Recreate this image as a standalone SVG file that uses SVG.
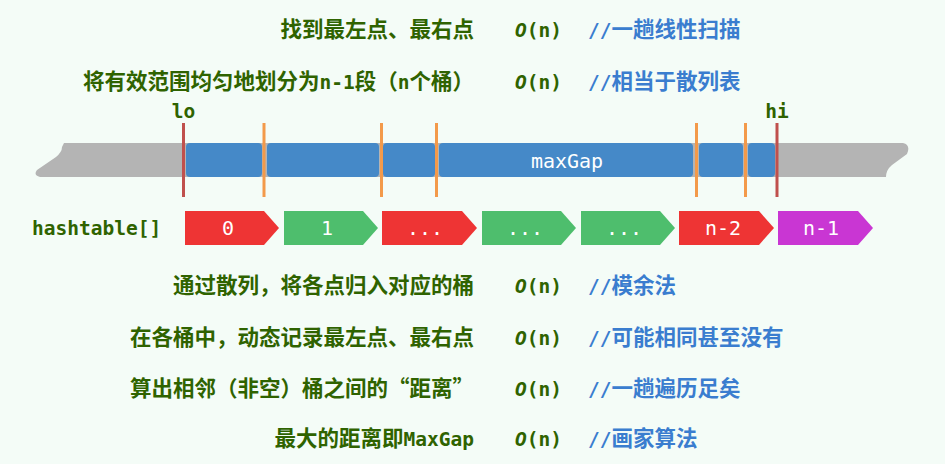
<svg xmlns="http://www.w3.org/2000/svg" width="945" height="464" viewBox="0 0 945 464">
<style>
.cn{font-family:"Noto Sans CJK SC","Noto Sans",sans-serif;font-size:21.5px;font-weight:bold;fill:#2f6300;}
.mono{font-family:"DejaVu Sans Mono","Liberation Mono",monospace;font-size:19.5px;}
.cx{font-family:"DejaVu Sans Mono","Liberation Mono",monospace;font-size:19.5px;font-weight:bold;fill:#2f6300;}
.cm{font-family:"Noto Sans CJK SC","Noto Sans",sans-serif;font-size:21.5px;font-weight:bold;fill:#3a7dcf;}
.seg{fill:#4589c8;}
.div{stroke:#f39a4a;stroke-width:3;}
.lim{stroke:#c0504d;stroke-width:3;}
.lbl{font-family:"DejaVu Sans Mono","Liberation Mono",monospace;font-size:20px;fill:#ffffff;text-anchor:middle;}
.red{fill:#ee3434;}
.grn{fill:#4ebe6d;}
.mag{fill:#c936d3;}
</style>
<rect width="945" height="464" fill="#f4fcf7"/>

<g id="row1">
<text class="cn" x="474" y="37" text-anchor="end">找到最左点、最右点</text>
<text class="cx" x="515" y="37"><tspan font-style="italic">O</tspan>(n)</text>
<text class="cm" x="588" y="37"><tspan class="mono">//</tspan>一趟线性扫描</text>
</g>
<g id="row2">
<text class="cn" x="474" y="89" text-anchor="end">将有效范围均匀地划分为<tspan class="mono">n-1</tspan>段（<tspan class="mono">n</tspan>个桶）</text>
<text class="cx" x="515" y="89"><tspan font-style="italic">O</tspan>(n)</text>
<text class="cm" x="588" y="89"><tspan class="mono">//</tspan>相当于散列表</text>
</g>

<g id="bar">
<path d="M64 143 L903 143 Q911 145 907 154 L892 165 Q886 170 886 177 L40 177 Q33 175 37 170 L56 157 Q62 152 62 147 Z" fill="#b4b4b4"/>
<rect class="seg" x="186" y="143" width="76" height="34" rx="4"/>
<rect class="seg" x="267" y="143" width="112" height="34" rx="4"/>
<rect class="seg" x="383" y="143" width="52" height="34" rx="4"/>
<rect class="seg" x="439" y="143" width="254" height="34" rx="4"/>
<rect class="seg" x="699" y="143" width="44" height="34" rx="4"/>
<rect class="seg" x="748" y="143" width="27" height="34" rx="4"/>
<text class="lbl" x="567" y="168">maxGap</text>
</g>

<g id="dividers">
<line class="div" x1="264" y1="123" x2="264" y2="197"/>
<line class="div" x1="381.5" y1="123" x2="381.5" y2="197"/>
<line class="div" x1="436.5" y1="123" x2="436.5" y2="197"/>
<line class="div" x1="696.5" y1="123" x2="696.5" y2="197"/>
<line class="div" x1="745.5" y1="123" x2="745.5" y2="197"/>
</g>
<g id="lo">
<line class="lim" x1="183.5" y1="123" x2="183.5" y2="197"/>
<text class="cx" x="183.5" y="118" font-size="19" text-anchor="middle">lo</text>
</g>
<g id="hi">
<line class="lim" x1="777" y1="123" x2="777" y2="197"/>
<text class="cx" x="777" y="118" font-size="19" text-anchor="middle">hi</text>
</g>

<g id="hashtable">
<text class="cx" x="32" y="235">hashtable[]</text>
</g>
<g id="b0"><path class="red" d="M185 211 H264 L279 228 L264 245 H185 Z"/><text class="lbl" x="228" y="235">0</text></g>
<g id="b1"><path class="grn" d="M284 211 H363 L378 228 L363 245 H284 Z"/><text class="lbl" x="327" y="235">1</text></g>
<g id="b2"><path class="red" d="M382 211 H462 L477 228 L462 245 H382 Z"/><text class="lbl" x="425" y="235">...</text></g>
<g id="b3"><path class="grn" d="M482 211 H561 L576 228 L561 245 H482 Z"/><text class="lbl" x="525" y="235">...</text></g>
<g id="b4"><path class="grn" d="M581 211 H660 L675 228 L660 245 H581 Z"/><text class="lbl" x="624" y="235">...</text></g>
<g id="b5"><path class="red" d="M679 211 H759 L774 228 L759 245 H679 Z"/><text class="lbl" x="723" y="235">n-2</text></g>
<g id="b6"><path class="mag" d="M778 211 H858 L873 228 L858 245 H778 Z"/><text class="lbl" x="821" y="235">n-1</text></g>

<g id="row3">
<text class="cn" x="474" y="293" text-anchor="end">通过散列，将各点归入对应的桶</text>
<text class="cx" x="515" y="293"><tspan font-style="italic">O</tspan>(n)</text>
<text class="cm" x="588" y="293"><tspan class="mono">//</tspan>模余法</text>
</g>
<g id="row4">
<text class="cn" x="474" y="345" text-anchor="end">在各桶中，动态记录最左点、最右点</text>
<text class="cx" x="515" y="345"><tspan font-style="italic">O</tspan>(n)</text>
<text class="cm" x="588" y="345"><tspan class="mono">//</tspan>可能相同甚至没有</text>
</g>
<g id="row5">
<text class="cn" x="474" y="396" text-anchor="end">算出相邻（非空）桶之间的“距离”</text>
<text class="cx" x="515" y="396"><tspan font-style="italic">O</tspan>(n)</text>
<text class="cm" x="588" y="396"><tspan class="mono">//</tspan>一趟遍历足矣</text>
</g>
<g id="row6">
<text class="cn" x="474" y="446" text-anchor="end">最大的距离即<tspan class="mono">MaxGap</tspan></text>
<text class="cx" x="515" y="446"><tspan font-style="italic">O</tspan>(n)</text>
<text class="cm" x="588" y="446"><tspan class="mono">//</tspan>画家算法</text>
</g>
</svg>
